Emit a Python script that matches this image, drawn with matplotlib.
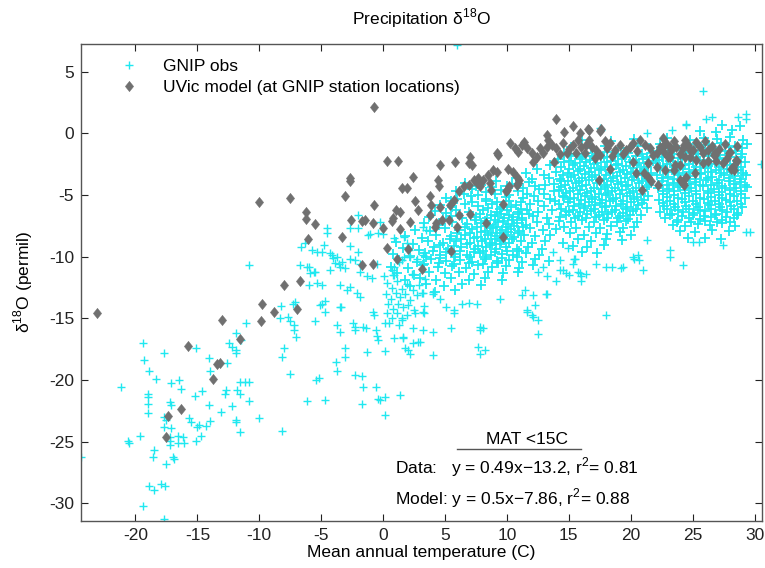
import matplotlib
matplotlib.use("Agg")
import matplotlib.pyplot as plt
from matplotlib.path import Path

# ---------------- data ----------------
# GNIP observations: sparse (cold / outlying) stations
obs_sparse = [
    (-24.4, -26.2), (-21.2, -20.6), (-20.6, -24.9), (-20.5, -25.1), (-19.6, -24.55), (-19.4, -17.0),
    (-19.35, -18.4), (-18.9, -19.3), (-18.35, -19.9), (-19.0, -21.1), (-19.0, -21.4), (-19.0, -21.9),
    (-19.0, -22.7), (-18.5, -25.7), (-18.55, -26.2), (-18.9, -28.6), (-18.5, -28.9), (-19.4, -30.2),
    (-17.9, -28.4), (-17.6, -28.55), (-17.7, -31.3), (-17.7, -17.8), (-17.1, -20.2), (-16.5, -20.0),
    (-16.3, -20.7), (-17.2, -21.8), (-17.1, -22.0), (-17.7, -23.0), (-17.55, -23.2), (-17.7, -23.8),
    (-17.15, -23.9), (-17.2, -24.6), (-17.2, -24.9), (-17.2, -25.3), (-16.6, -24.5), (-16.6, -25.1),
    (-16.2, -24.65), (-16.1, -25.1), (-17.0, -26.2), (-16.9, -26.4), (-17.5, -26.8), (-15.7, -23.1),
    (-15.55, -23.4), (-15.0, -23.8), (-14.9, -23.65), (-15.1, -24.9), (-14.7, -24.5), (-14.3, -23.7),
    (-14.0, -23.3), (-15.1, -17.4), (-15.2, -21.3), (-14.65, -20.9), (-14.05, -18.2), (-14.0, -19.3),
    (-14.05, -22.0), (-13.1, -22.6), (-12.7, -20.8), (-12.75, -21.1), (-12.65, -18.65), (-12.45, -17.0),
    (-12.2, -17.3), (-11.9, -17.6), (-11.85, -17.8), (-12.2, -22.1), (-11.8, -20.8), (-11.6, -20.15),
    (-11.15, -20.15), (-11.9, -23.25), (-11.85, -23.4), (-11.6, -24.2), (-11.1, -15.4), (-11.85, -16.2),
    (-11.5, -16.75), (-10.85, -21.7), (-10.0, -23.1), (-10.85, -10.7), (-10.8, -20.15), (-11.6, -21.1),
    (-8.25, -14.0), (-8.3, -15.0), (-8.2, -18.1), (-8.0, -17.4), (-7.5, -19.5), (-8.2, -24.1),
    (-7.7, -14.9), (-7.5, -15.2), (-7.2, -15.55), (-7.2, -15.95), (-7.0, -16.5), (-7.1, -13.7),
    (-6.15, -21.7), (-5.5, -15.2), (-5.4, -20.0), (-5.2, -19.8), (-4.7, -21.6), (-5.1, -13.9),
    (-4.7, -13.6), (-3.7, -15.55), (-3.8, -18.5), (-3.75, -19.3), (-3.1, -17.4), (-3.1, -18.1),
    (-3.5, -16.1), (-3.4, -14.1), (-2.4, -15.4), (-2.25, -15.7), (-2.3, -15.95), (-2.25, -19.6),
    (-1.7, -19.65), (-1.65, -20.55), (-1.7, -21.9), (-1.6, -15.7), (-1.4, -15.8), (-1.3, -17.7),
    (-0.8, -14.45), (-0.7, -14.7), (-0.6, -15.95), (-0.5, -16.45), (-0.4, -16.75), (-0.55, -20.6),
    (-0.4, -21.5), (-0.25, -21.6), (0.15, -21.4), (0.15, -17.65), (0.15, -22.8), (0.15, -15.4),
    (1.4, -21.2), (1.5, -15.0), (1.6, -16.5), (1.8, -17.4), (2.0, -17.6), (2.2, -17.9), (4.05, -18.0),
    (0.85, -16.6), (1.6, -16.6), (2.45, -15.8), (3.25, -15.9), (4.05, -16.1), (2.45, -17.0), (2.85, -16.9),
    (3.0, -16.9), (3.3, -14.55), (5.45, -15.8), (7.8, -15.9), (8.1, -15.75), (7.7, -17.3), (8.2, -17.6),
    (7.8, -17.85), (5.7, -14.55), (5.1, -14.05), (6.35, -13.8), (6.95, -13.75), (7.55, -13.85),
    (9.4, -13.45), (11.6, -14.45), (12.05, -14.7), (12.5, -15.1), (12.5, -16.3), (12.3, -13.9),
    (13.15, -13.0), (11.2, -13.1), (12.1, -13.1), (11.45, -12.7), (3.2, -12.95), (4.0, -12.85),
    (4.6, -13.45), (18.0, -14.75),
]

# GNIP observations: mid-temperature stations around 0 C
obs_mid = [
    (-6.65, -9.2), (-6.7, -10.7), (-6.0, -10.8), (-5.6, -11.2), (-5.75, -9.45), (-5.35, -9.6),
    (-4.8, -9.05), (-4.55, -8.05), (-4.55, -7.7), (-4.3, -9.7), (-4.05, -10.1), (-3.75, -10.0),
    (-3.6, -10.55), (-3.35, -10.4), (-3.05, -10.95), (-2.7, -9.15), (-2.65, -10.15), (-2.25, -10.3),
    (-2.65, -7.7), (-2.0, -7.7), (-2.0, -6.6), (-2.05, -9.6), (-1.85, -10.55), (-1.1, -8.15),
    (-0.25, -7.15), (0.0, -8.15), (-0.5, -10.55), (0.7, -11.1), (0.8, -11.5), (1.5, -10.3),
    (1.9, -8.9), (2.05, -9.45), (-6.3, -8.9), (-4.95, -9.6), (-4.15, -9.9), (-3.85, -10.5),
    (-4.3, -11.1), (-3.45, -10.8), (-6.15, -10.8), (-5.9, -11.35), (-5.5, -11.25), (-5.35, -12.15),
    (-4.95, -12.3), (-6.0, -12.3), (-3.45, -12.3), (-2.95, -12.7), (-2.65, -12.45), (-2.1, -12.9),
    (-1.85, -13.25), (-1.85, -11.2), (-1.3, -11.6), (-0.9, -11.75), (-1.2, -8.25), (-0.4, -8.1),
    (-4.95, -13.8), (-3.45, -14.05), (-4.7, -14.45), (-7.25, -13.8), (0.85, -10.8), (1.25, -10.4),
    (1.65, -10.0), (2.2, -10.0), (2.7, -10.15), (3.25, -9.9), (3.25, -7.6), (3.5, -7.85),
    (0.85, -8.5), (1.65, -8.4),
    (0.3, -12.1), (0.7, -12.5), (1.1, -12.0), (1.5, -12.6), (1.9, -12.2), (2.4, -12.7), (2.9, -12.3),
    (0.2, -13.0), (0.6, -13.4), (1.0, -12.9), (1.4, -13.3), (1.8, -13.0), (2.2, -13.5), (2.7, -13.1),
    (0.4, -13.8), (0.8, -14.2), (1.2, -13.8), (1.6, -14.1), (2.0, -13.9), (2.5, -14.3), (0.3, -14.6),
    (0.7, -15.0), (1.1, -14.6), (1.5, -15.1), (1.9, -14.7), (0.5, -15.4), (1.3, -15.5), (3.1, -12.9),
    (3.3, -14.0), (0.1, -11.6), (0.9, -11.5), (2.3, -11.4), (3.4, -11.8), (2.6, -14.6), (3.2, -14.5),
    (5.7, -14.3), (7.8, -15.7), (4.05, -13.0), (11.6, -14.3), (12.1, -14.9), (13.2, -13.0),
]

# GNIP observations: warm stations (outlying points)
obs_warm = [
    (5.95, 7.15), (25.8, 3.4), (26.1, 1.2), (26.6, 1.35), (28.65, 1.35), (29.3, 1.6), (29.3, 1.2),
    (30.5, -2.45), (24.5, 0.67), (23.3, 0.27), (21.3, 0.0), (17.5, 0.4), (17.6, 0.27), (24.5, 0.8),
    (29.3, -8.0), (29.6, -8.0), (27.45, -9.05), (25.0, -8.8), (24.2, -10.7), (23.15, -9.45),
    (23.15, -10.0), (20.7, -10.3), (21.3, -8.65), (20.2, -10.0), (18.0, -10.8), (18.45, -10.8),
    (19.25, -10.95), (17.2, -10.55), (15.75, -11.2), (16.0, -11.6), (14.3, -11.1), (15.9, -11.35),
    (15.95, -11.95), (16.4, -11.4), (20.3, -10.2), (20.6, -9.9), (21.0, -11.1), (19.4, -10.8),
    (25.55, -8.8), (14.55, -11.1), (14.8, -11.35), (15.35, -10.55), (15.5, -10.15),
    (12.9, -10.8), (13.7, -9.6), (14.3, -10.3), (13.2, -11.6), (14.9, -9.3), (15.4, -10.2),
    (12.5, -11.2), (14.0, -12.0), (15.0, -11.5),
]

# GNIP observations: dense cluster 3-15 C
obs_dense_a = [
    (6.6, -4.0), (7.9, -4.15), (9.1, -3.9), (10.4, -4.1), (11.8, -3.95), (13.1, -4.2), (14.4, -3.85),
    (5.9, -4.65), (7.2, -4.5), (8.3, -4.75), (9.5, -4.55), (10.9, -4.7), (12.6, -4.5), (13.8, -4.65),
    (5.1, -5.2), (6.0, -5.35), (7.1, -5.1), (8.3, -5.3), (9.9, -5.15), (11.3, -5.25), (12.2, -5.05),
    (13.5, -5.3), (14.6, -5.15), (4.6, -5.8), (5.6, -5.95), (6.6, -5.7), (7.7, -5.85), (8.8, -5.75),
    (9.6, -5.95), (10.7, -5.8), (11.9, -5.7), (13.0, -5.9), (14.2, -5.75), (4.2, -6.3), (5.1, -6.45),
    (5.9, -6.2), (6.9, -6.35), (8.1, -6.25), (9.2, -6.4), (10.0, -6.2), (10.9, -6.35), (11.6, -6.25),
    (12.5, -6.4), (13.6, -6.2), (14.8, -6.3), (3.7, -6.8), (4.8, -6.95), (5.5, -6.7), (6.4, -6.85),
    (7.5, -6.75), (8.4, -6.9), (9.0, -6.7), (9.8, -6.85), (10.5, -6.75), (11.2, -6.9), (12.1, -6.7),
    (13.2, -6.85), (14.3, -6.75), (3.3, -7.3), (4.5, -7.45), (5.6, -7.2), (6.8, -7.35), (7.9, -7.25),
    (8.6, -7.4), (9.3, -7.2), (10.1, -7.35), (10.8, -7.25), (11.5, -7.4), (12.4, -7.2), (13.4, -7.35),
    (2.6, -7.8), (3.8, -7.95), (5.0, -7.7), (6.1, -7.85), (7.2, -7.75), (8.2, -7.9), (8.9, -7.7),
    (9.6, -7.85), (10.3, -7.75), (11.0, -7.9), (11.9, -7.7), (12.9, -7.85), (14.0, -7.75),
    (1.8, -8.3), (3.1, -8.45), (4.3, -8.2), (5.5, -8.35), (6.6, -8.25), (7.6, -8.4), (8.5, -8.2),
    (9.2, -8.35), (9.9, -8.25), (10.6, -8.4), (11.4, -8.2), (12.3, -8.35), (13.5, -8.25),
    (1.0, -8.8), (2.4, -8.95), (3.6, -8.7), (4.8, -8.85), (5.9, -8.75), (7.0, -8.9), (8.0, -8.7),
    (8.8, -8.85), (9.5, -8.75), (10.2, -8.9), (11.1, -8.7), (12.0, -8.85), (13.1, -8.75), (14.5, -8.9),
    (1.6, -9.3), (2.9, -9.45), (4.1, -9.2), (5.2, -9.35), (6.3, -9.25), (7.4, -9.4), (8.3, -9.2),
    (9.1, -9.35), (9.9, -9.25), (10.8, -9.4), (11.7, -9.2), (12.8, -9.35), (0.8, -9.8), (2.2, -9.95),
    (3.4, -9.7), (4.6, -9.85), (5.7, -9.75), (6.8, -9.9), (7.8, -9.7), (8.7, -9.85), (9.6, -9.75),
    (10.5, -9.9), (11.5, -9.7), (12.6, -9.85), (1.3, -10.3), (2.7, -10.45), (3.9, -10.2), (5.1, -10.35),
    (6.2, -10.25), (7.2, -10.4), (8.2, -10.2), (9.2, -10.35), (10.2, -10.25), (11.2, -10.4),
    (12.3, -10.2), (13.4, -10.35), (0.6, -10.8), (2.0, -10.95), (3.2, -10.7), (4.4, -10.85),
    (5.6, -10.75), (6.7, -10.9), (7.7, -10.7), (8.8, -10.85), (9.9, -10.75), (11.0, -10.9),
    (12.1, -10.7), (1.1, -11.3), (2.5, -11.45), (3.7, -11.2), (5.0, -11.35), (6.1, -11.25),
    (7.3, -11.4), (8.5, -11.2), (9.7, -11.35), (10.9, -11.25), (1.8, -11.85), (3.0, -11.7),
    (4.3, -11.9), (5.5, -11.75), (6.9, -11.85), (8.2, -11.7), (9.6, -11.9), (2.2, -12.35),
    (3.5, -12.2), (4.9, -12.4), (6.4, -12.25), (7.9, -12.3), (4.2, -12.85), (5.8, -12.7),
    (8.5, -6.05), (9.4, -6.1), (10.3, -6.0), (11.1, -6.1), (7.8, -6.55), (8.7, -6.6), (9.5, -6.5),
    (10.2, -6.6), (11.0, -6.55), (11.8, -6.5), (7.4, -7.05), (8.2, -7.1), (9.0, -7.0), (9.7, -7.1),
    (10.4, -7.05), (11.2, -7.0), (6.6, -7.55), (7.6, -7.6), (8.4, -7.5), (9.1, -7.6), (9.9, -7.55),
    (10.6, -7.5), (11.3, -7.6), (6.0, -8.05), (7.0, -8.1), (7.9, -8.0), (8.7, -8.1), (9.4, -8.05),
    (10.1, -8.0), (10.9, -8.1), (5.4, -8.55), (6.3, -8.6), (7.3, -8.5), (8.2, -8.6), (9.0, -8.55),
    (9.7, -8.5), (10.4, -8.6), (4.6, -9.05), (5.7, -9.1), (6.8, -9.0), (7.7, -9.1), (8.6, -9.05),
    (9.4, -9.0), (4.0, -9.55), (5.1, -9.6), (6.2, -9.5), (7.3, -9.6), (8.1, -9.55), (3.5, -10.05),
    (4.6, -10.1), (5.8, -10.0),
    (11.5, -3.2), (12.4, -2.9), (13.0, -3.4), (12.0, -3.7), (10.7, -3.6),
    (7.5, -4.3), (8.8, -4.35), (10.0, -4.25), (11.3, -4.4), (12.3, -4.3),
    (6.5, -4.95), (7.7, -5.0), (9.0, -4.9), (10.2, -5.0), (11.6, -4.95), (13.0, -4.9),
    (5.5, -5.5), (7.2, -5.55), (8.3, -5.45), (9.2, -5.6), (10.2, -5.5), (11.1, -5.55), (12.5, -5.5),
    (13.9, -5.45), (9.0, -9.6), (10.0, -9.5), (11.0, -9.55), (7.0, -10.05), (8.3, -10.0), (9.6, -10.1),
    (10.8, -10.0), (3.3, -10.55), (4.5, -10.5), (5.7, -10.6), (6.9, -10.5), (8.1, -10.6), (9.3, -10.5),
]

# GNIP observations: dense cluster 14-22 C
obs_dense_b = [
    (16.1, -0.5), (18.4, -0.6), (20.3, -0.45), (15.2, -1.1), (16.8, -1.2), (17.9, -1.05), (19.2, -1.15),
    (20.6, -1.0), (21.5, -1.2), (14.6, -1.6), (15.6, -1.7), (16.4, -1.55), (17.3, -1.65), (18.1, -1.5),
    (19.0, -1.7), (19.8, -1.6), (20.9, -1.65), (21.7, -1.55), (14.1, -2.1), (15.0, -2.2), (15.9, -2.05),
    (16.7, -2.15), (17.6, -2.0), (18.4, -2.2), (19.3, -2.1), (20.2, -2.15), (21.0, -2.05), (21.8, -2.2),
    (13.5, -2.6), (14.4, -2.7), (15.3, -2.55), (16.2, -2.65), (17.0, -2.5), (17.9, -2.7), (18.8, -2.6),
    (19.6, -2.65), (20.5, -2.55), (21.3, -2.7), (14.0, -3.1), (14.9, -3.2), (15.7, -3.05), (16.6, -3.15),
    (17.4, -3.0), (18.3, -3.2), (19.1, -3.1), (20.0, -3.15), (20.8, -3.05), (21.6, -3.2), (13.4, -3.6),
    (14.3, -3.7), (15.2, -3.55), (16.1, -3.65), (16.9, -3.5), (17.8, -3.7), (18.6, -3.6), (19.5, -3.65),
    (20.3, -3.55), (21.2, -3.7), (13.8, -4.1), (14.7, -4.2), (15.6, -4.05), (16.4, -4.15), (17.3, -4.0),
    (18.1, -4.2), (19.0, -4.1), (19.8, -4.15), (20.7, -4.05), (21.5, -4.2), (14.2, -4.6), (15.1, -4.7),
    (15.9, -4.55), (16.8, -4.65), (17.6, -4.5), (18.5, -4.7), (19.3, -4.6), (20.2, -4.65), (21.0, -4.55),
    (14.5, -5.1), (15.4, -5.2), (16.3, -5.05), (17.1, -5.15), (18.0, -5.0), (18.8, -5.2), (19.7, -5.1),
    (20.5, -5.15), (21.4, -5.05), (14.9, -5.6), (15.8, -5.7), (16.6, -5.55), (17.5, -5.65), (18.3, -5.5),
    (19.2, -5.7), (20.0, -5.6), (20.9, -5.65), (14.4, -6.1), (15.3, -6.2), (16.2, -6.05), (17.0, -6.15),
    (17.9, -6.0), (18.7, -6.2), (19.6, -6.1), (20.4, -6.15), (21.3, -6.05), (14.8, -6.6), (15.7, -6.7),
    (16.5, -6.55), (17.4, -6.65), (18.2, -6.5), (19.1, -6.7), (19.9, -6.6), (20.8, -6.65), (14.2, -7.1),
    (15.2, -7.2), (16.1, -7.05), (17.0, -7.15), (17.8, -7.0), (18.9, -7.2), (19.6, -7.1), (20.5, -7.15),
    (14.6, -7.6), (15.6, -7.7), (16.6, -7.55), (17.5, -7.65), (18.4, -7.5), (19.4, -7.7), (20.3, -7.6),
    (15.1, -8.1), (16.2, -8.2), (17.2, -8.05), (18.1, -8.15), (19.1, -8.0), (20.0, -8.2), (15.7, -8.6),
    (16.8, -8.7), (18.0, -8.55), (19.3, -8.65), (15.3, -9.1), (16.5, -9.2), (17.8, -9.05), (16.1, -9.6),
    (17.3, -9.7),
    (15.2, -1.85), (16.1, -1.9), (16.9, -1.8), (17.8, -1.9), (18.7, -1.85), (19.5, -1.95), (20.4, -1.8),
    (21.3, -1.9), (14.6, -2.35), (15.5, -2.4), (16.4, -2.3), (17.3, -2.4), (18.1, -2.35), (19.0, -2.45),
    (19.9, -2.3), (20.7, -2.4), (21.5, -2.35), (15.0, -2.85), (15.9, -2.9), (16.8, -2.8), (17.6, -2.9),
    (18.5, -2.85), (19.4, -2.95), (20.2, -2.8), (21.1, -2.9), (14.5, -3.35), (15.4, -3.4), (16.3, -3.3),
    (17.1, -3.4), (18.0, -3.35), (18.9, -3.45), (19.7, -3.3), (20.6, -3.4), (21.4, -3.35), (14.9, -3.85),
    (15.8, -3.9), (16.6, -3.8), (17.5, -3.9), (18.4, -3.85), (19.2, -3.95), (20.1, -3.8), (20.9, -3.9),
    (14.4, -4.35), (15.3, -4.4), (16.1, -4.3), (17.0, -4.4), (17.9, -4.35), (18.7, -4.45), (19.6, -4.3),
    (20.4, -4.4), (21.3, -4.35), (14.8, -4.85), (15.7, -4.9), (16.5, -4.8), (17.4, -4.9), (18.2, -4.85),
    (19.1, -4.95), (19.9, -4.8), (20.8, -4.9), (15.1, -5.35), (16.0, -5.4), (16.9, -5.3), (17.7, -5.4),
    (18.6, -5.35), (19.4, -5.45), (20.3, -5.3), (21.1, -5.4), (15.4, -5.85), (16.3, -5.9), (17.1, -5.8),
    (18.0, -5.9), (18.8, -5.85), (19.7, -5.95), (20.6, -5.8), (15.0, -6.35), (15.9, -6.4), (16.8, -6.3),
    (17.7, -6.4), (18.5, -6.35), (19.4, -6.45), (20.2, -6.3), (15.5, -6.85), (16.4, -6.9), (17.2, -6.8),
    (18.1, -6.9), (19.0, -6.85), (19.8, -6.95),
]

# GNIP observations: dense cluster 22-30 C
obs_dense_c = [
    (27.4, 0.7), (28.8, 0.6), (25.6, 0.2), (26.9, 0.1), (28.2, 0.25), (22.9, -0.4), (24.8, -0.5),
    (25.9, -0.35), (27.0, -0.45), (28.0, -0.3), (29.1, -0.5), (22.4, -0.9), (23.6, -1.0), (25.2, -0.85),
    (26.3, -0.95), (27.3, -0.8), (28.4, -1.0), (29.4, -0.9), (22.1, -1.4), (23.0, -1.5), (24.1, -1.35),
    (25.0, -1.45), (25.8, -1.3), (26.7, -1.5), (27.6, -1.4), (28.5, -1.45), (22.5, -1.9), (23.4, -2.0),
    (24.4, -1.85), (25.3, -1.95), (26.2, -1.8), (27.1, -2.0), (28.0, -1.9), (28.9, -1.95), (22.0, -2.4),
    (22.9, -2.5), (23.8, -2.35), (24.7, -2.45), (25.6, -2.3), (26.5, -2.5), (27.4, -2.4), (28.3, -2.45),
    (29.2, -2.35), (22.4, -2.9), (23.3, -3.0), (24.2, -2.85), (25.1, -2.95), (26.0, -2.8), (26.9, -3.0),
    (27.8, -2.9), (28.7, -2.95), (22.1, -3.4), (23.0, -3.5), (23.9, -3.35), (24.8, -3.45), (25.7, -3.3),
    (26.6, -3.5), (27.5, -3.4), (28.4, -3.45), (29.3, -3.35), (22.5, -3.9), (23.4, -4.0), (24.3, -3.85),
    (25.2, -3.95), (26.1, -3.8), (27.0, -4.0), (27.9, -3.9), (28.8, -3.95), (22.2, -4.4), (23.1, -4.5),
    (24.0, -4.35), (24.9, -4.45), (25.8, -4.3), (26.7, -4.5), (27.6, -4.4), (28.5, -4.45), (29.4, -4.35),
    (22.6, -4.9), (23.5, -5.0), (24.4, -4.85), (25.3, -4.95), (26.2, -4.8), (27.1, -5.0), (28.0, -4.9),
    (28.9, -4.95), (22.3, -5.4), (23.2, -5.5), (24.1, -5.35), (25.0, -5.45), (25.9, -5.3), (26.8, -5.5),
    (27.7, -5.4), (28.6, -5.45), (22.7, -5.9), (23.6, -6.0), (24.5, -5.85), (25.4, -5.95), (26.3, -5.8),
    (27.2, -6.0), (28.1, -5.9), (29.0, -5.95), (22.4, -6.4), (23.3, -6.5), (24.2, -6.35), (25.1, -6.45),
    (26.0, -6.3), (26.9, -6.5), (27.8, -6.4), (28.7, -6.45), (22.8, -6.9), (23.8, -7.0), (24.7, -6.85),
    (25.6, -6.95), (26.5, -6.8), (27.4, -7.0), (28.3, -6.9), (23.4, -7.4), (24.4, -7.5), (25.4, -7.35),
    (26.4, -7.45), (27.4, -7.3), (28.4, -7.5), (24.0, -7.9), (25.2, -8.0), (26.6, -7.85), (27.9, -7.95),
    (24.6, -8.5), (26.0, -8.45), (27.3, -8.55),
    (23.0, -1.15), (24.5, -1.2), (25.7, -1.1), (26.8, -1.2), (27.9, -1.1), (29.0, -1.2),
    (22.6, -1.65), (23.5, -1.7), (24.5, -1.6), (25.4, -1.7), (26.3, -1.65), (27.2, -1.75), (28.1, -1.6),
    (29.0, -1.7), (22.3, -2.15), (23.2, -2.2), (24.1, -2.1), (25.0, -2.2), (25.9, -2.15), (26.8, -2.25),
    (27.7, -2.1), (28.6, -2.2), (22.6, -2.65), (23.5, -2.7), (24.4, -2.6), (25.3, -2.7), (26.2, -2.65),
    (27.1, -2.75), (28.0, -2.6), (28.9, -2.7), (22.9, -3.15), (23.8, -3.2), (24.7, -3.1), (25.6, -3.2),
    (26.5, -3.15), (27.3, -3.25), (28.2, -3.1), (29.1, -3.2), (22.6, -3.65), (23.5, -3.7), (24.4, -3.6),
    (25.3, -3.7), (26.2, -3.65), (27.1, -3.75), (28.0, -3.6), (28.9, -3.7), (22.9, -4.15), (23.8, -4.2),
    (24.7, -4.1), (25.6, -4.2), (26.5, -4.15), (27.4, -4.25), (28.3, -4.1), (29.2, -4.2), (22.6, -4.65),
    (23.5, -4.7), (24.4, -4.6), (25.3, -4.7), (26.2, -4.65), (27.1, -4.75), (28.0, -4.6), (28.9, -4.7),
    (22.9, -5.15), (23.8, -5.2), (24.7, -5.1), (25.6, -5.2), (26.5, -5.15), (27.4, -5.25), (28.3, -5.1),
    (29.2, -5.2), (22.6, -5.65), (23.5, -5.7), (24.4, -5.6), (25.3, -5.7), (26.2, -5.65), (27.1, -5.75),
    (28.0, -5.6), (28.9, -5.7), (22.9, -6.15), (23.8, -6.2), (24.7, -6.1), (25.6, -6.2), (26.5, -6.15),
    (27.4, -6.25), (28.3, -6.1), (23.2, -6.65), (24.1, -6.7), (25.0, -6.6), (25.9, -6.7), (26.8, -6.65),
    (27.7, -6.75), (28.6, -6.6), (23.7, -7.15), (24.9, -7.2), (26.0, -7.1), (27.0, -7.2), (28.0, -7.15),
]

# UVic model at GNIP station locations
model_pts = [
    (-23.1, -14.55), (-17.5, -24.6), (-17.4, -22.9), (-16.3, -22.35), (-15.75, -17.2), (-13.75, -19.9),
    (-13.4, -18.7), (-13.2, -18.65), (-13.0, -15.15), (-11.6, -16.7), (-10.0, -5.6), (-9.9, -15.2),
    (-9.8, -13.8), (-8.8, -14.5), (-8.0, -12.3), (-7.5, -5.2), (-6.95, -14.2), (-6.75, -12.0),
    (-6.2, -6.4), (-6.2, -6.95), (-6.1, -8.6), (-5.5, -7.35), (-3.3, -8.4), (-3.1, -5.1), (-2.7, -3.65),
    (-2.7, -3.9), (-2.6, -7.0), (-1.7, -7.1), (-1.5, -7.0), (-1.7, -10.65), (-0.85, -10.55),
    (-0.8, -7.25), (-0.7, -5.8), (-0.7, 2.1), (0.0, -7.7), (0.3, -2.25), (0.3, -9.3), (0.7, -7.1),
    (0.8, -6.9), (1.0, -6.2), (1.1, -10.15), (1.2, -2.25), (1.35, -7.75), (1.4, -6.35), (1.5, -4.45),
    (1.9, -4.45), (2.0, -9.4), (2.2, -7.2), (2.45, -3.55), (2.6, -5.45), (2.85, -6.25), (3.1, -11.0),
    (3.8, -5.1), (3.9, -5.8), (4.4, -3.8), (4.55, -4.3), (4.6, -2.6), (4.6, -5.95), (3.8, -6.6),
    (4.3, -7.3), (4.75, -7.0), (5.3, -7.0), (4.2, -7.6), (5.5, -9.5), (5.8, -2.3), (6.0, -7.6),
    (6.15, -6.6), (7.0, -6.5), (8.3, -7.3), (8.75, -4.55), (9.7, -5.7), (9.7, -8.4), (9.95, -4.7),
    (10.2, -4.3), (10.8, -4.2), (5.4, -5.8), (5.7, -5.4), (6.1, -4.7), (6.5, -4.3), (6.9, -4.2),
    (7.3, -3.8), (7.7, -3.65), (8.1, -3.8), (8.5, -3.4), (8.9, -3.0), (9.2, -3.1), (8.6, -4.05),
    (7.8, -4.3), (7.55, -4.05), (7.0, -1.9), (7.2, -2.6), (6.9, -2.4), (9.2, -1.6), (9.3, -1.76),
    (10.1, -2.85), (10.5, -3.1), (10.8, -3.5), (11.0, -3.8), (10.0, -4.6), (10.9, -4.05),
    (13.2, -0.14), (13.95, 1.16), (13.8, -2.3), (15.35, 0.6), (16.6, 0.27), (17.5, 0.2), (15.9, 0.0),
    (16.55, 0.32), (17.6, 0.32), (14.6, 0.1),
    (10.24, -0.81), (10.65, -1.22), (11.18, -0.95), (11.59, -1.22), (11.99, -1.62), (12.39, -1.89),
    (12.12, -2.3), (12.66, -1.22), (13.2, -1.08), (13.6, -0.95), (14.0, -1.22), (14.54, -0.81),
    (14.81, -1.62), (15.35, -0.95), (15.75, -0.54), (16.02, -1.08), (16.42, -0.95), (16.83, -1.08),
    (17.23, -1.35), (17.1, -2.03), (17.5, -1.76), (18.04, -1.22), (18.3, -0.81), (18.71, -1.35),
    (19.11, -0.95), (19.65, -1.35), (20.19, -0.81), (20.73, -0.54), (21.13, -0.95), (21.53, -1.22),
    (21.8, -1.76), (21.4, -2.43), (22.34, -1.08), (22.88, -0.81), (23.28, -1.35), (23.68, -1.08),
    (24.22, -1.22), (24.62, -0.95), (25.03, -1.35), (24.76, -1.89), (25.3, -2.16), (25.83, -1.62),
    (26.24, -1.35), (26.77, -1.76), (27.45, -2.43), (28.25, -2.7), (28.52, -2.16),
    (10.9, -1.5), (11.4, -0.7), (12.9, -1.6), (13.3, -0.5), (14.3, -1.7), (15.0, -1.3), (15.6, -1.6),
    (16.3, -1.6), (16.6, -0.5), (17.9, -0.6), (18.5, -1.8), (19.4, -1.7), (19.9, -1.1), (20.5, -1.4),
    (22.1, -1.6), (22.6, -0.4), (23.0, -1.9), (23.5, -0.6), (24.0, -1.7), (24.4, -0.5), (25.3, -0.7),
    (25.6, -1.1), (26.0, -0.6), (26.6, -1.0), (27.1, -1.3), (27.6, -0.9), (28.0, -1.5), (28.6, -1.0),
    (26.9, -2.2), (27.8, -2.0),
    (17.45, -3.8), (18.3, -2.85), (20.45, -3.25), (21.4, -3.5), (22.2, -4.2), (20.9, -4.55),
    (24.2, -4.05), (24.5, -3.5), (25.2, -3.25), (25.8, -2.4), (26.75, -1.75), (28.1, -2.85),
    (20.2, -2.3), (22.1, -2.7), (21.1, -3.25), (21.6, -3.9), (22.7, -0.95), (23.2, -1.1), (22.7, -1.5),
    (23.2, -1.9), (24.3, -0.95), (24.8, -1.35), (24.4, -1.9), (24.0, -2.6), (23.5, -3.0), (24.0, -3.8),
    (24.3, -4.2), (23.6, -2.6), (22.8, -3.0), (26.2, -2.2), (26.8, -1.6), (27.9, -1.6), (28.3, -3.0),
    (28.6, -2.2),
]

x_ticks = [-20, -15, -10, -5, 0, 5, 10, 15, 20, 25, 30]
y_ticks = [5, 0, -5, -10, -15, -20, -25, -30]

title_text = "Precipitation \u03b4$^{18}$O"
xlabel_text = "Mean annual temperature (C)"
ylabel_text = "\u03b4$^{18}$O (permil)"
legend_labels = ["GNIP obs", "UVic model (at GNIP station locations)"]
fit_header = "MAT <15C"
fit_data = "Data:   y = 0.49x\u221213.2, r$^2$= 0.81"
fit_model = "Model: y = 0.5x\u22127.86, r$^2$= 0.88"

# ---------------- plot ----------------
plt.rcParams['font.family'] = ['Liberation Sans', 'DejaVu Sans']
plt.rcParams['mathtext.fontset'] = 'custom'
plt.rcParams['mathtext.rm'] = 'Liberation Sans'
plt.rcParams['axes.unicode_minus'] = False

FS = 12.5

sparse_all = obs_sparse + obs_mid + obs_warm
dense_all = obs_dense_a + obs_dense_b + obs_dense_c
sx = [p[0] for p in sparse_all]
sy = [p[1] for p in sparse_all]
dx = [p[0] for p in dense_all]
dy = [p[1] for p in dense_all]
mod_x = [p[0] for p in model_pts]
mod_y = [p[1] for p in model_pts]

fig = plt.figure(figsize=(7.65, 5.68), dpi=100)
ax = fig.add_axes([0.1059, 0.0833, 0.8902, 0.8393])

cyan = '#1fe8f0'
grey = '#707070'
diamond = Path([(0, 1), (0.8, 0), (0, -1), (-0.8, 0), (0, 1)],
               [Path.MOVETO, Path.LINETO, Path.LINETO, Path.LINETO, Path.CLOSEPOLY])

ax.plot(dx, dy, linestyle='none', marker='+', color=cyan, ms=7.5, mew=1.3)
h1, = ax.plot(sx, sy, linestyle='none', marker='+', color=cyan, ms=5.5, mew=1.0,
              label=legend_labels[0])
h2, = ax.plot(mod_x, mod_y, linestyle='none', marker=diamond, color=grey, mec=grey,
              ms=7.5, mew=0.3, label=legend_labels[1])

ax.set_xlim(-24.4, 30.6)
ax.set_ylim(-31.4, 7.25)
ax.set_xticks(x_ticks)
ax.set_yticks(y_ticks)
ax.tick_params(direction='in', length=5, width=0.8, top=True, right=True,
               labelsize=FS, colors='#222222', pad=5)
for s in ax.spines.values():
    s.set_color('#555555')
    s.set_linewidth(1.0)

ax.set_title(title_text, fontsize=FS, pad=14)
ax.set_xlabel(xlabel_text, fontsize=FS, labelpad=2)
ax.set_ylabel(ylabel_text, fontsize=FS, labelpad=10)

ax.legend(handles=[h1, h2], loc='upper left', bbox_to_anchor=(0.041, 0.983),
          frameon=False, fontsize=FS, handlelength=1.5, handletextpad=1.2,
          labelspacing=0.33, borderaxespad=0.0)

ax.text(0.655, 0.171, fit_header, transform=ax.transAxes, ha='center', va='center', fontsize=FS)
ax.plot([0.552, 0.734], [0.150, 0.150], transform=ax.transAxes, color='#555555', lw=1.0)
ax.text(0.461, 0.113, fit_data, transform=ax.transAxes, ha='left', va='center', fontsize=FS)
ax.text(0.461, 0.048, fit_model, transform=ax.transAxes, ha='left', va='center', fontsize=FS)

fig.savefig('out.png', dpi=100)
